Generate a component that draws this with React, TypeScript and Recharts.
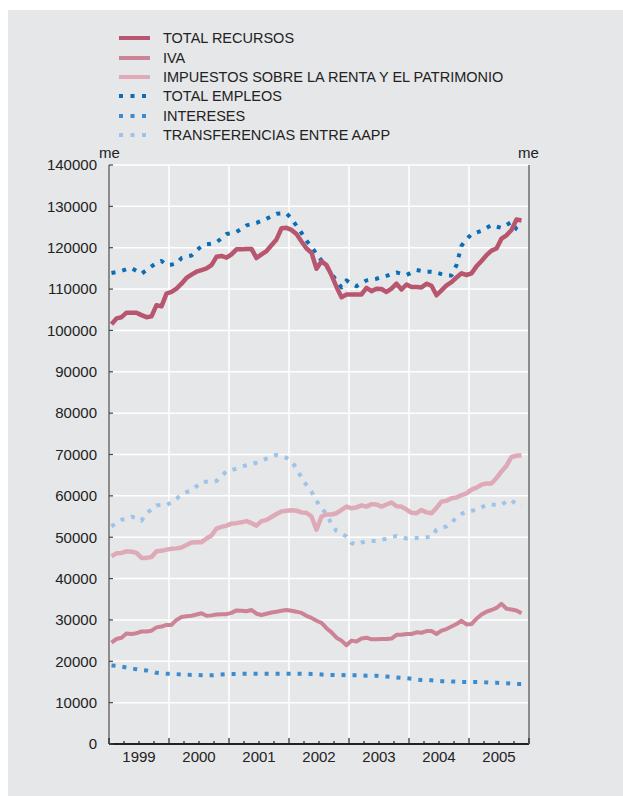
import { LineChart, Line, XAxis, YAxis, CartesianGrid } from 'recharts';

const FONT = '"Liberation Sans", Arial, Helvetica, sans-serif';

// monthly series, Jan 1999 .. Nov 2005 (millones de euros)
const totalRecursos = [
  101500, 102900, 103200, 104300, 104300, 104300, 103700, 103200, 103400, 106100, 105800, 108900,
  109300, 110100, 111300, 112700, 113500, 114200, 114600, 115000, 115800, 117800, 118000, 117600,
  118400, 119600, 119600, 119700, 119700, 117500, 118400, 119200, 120600, 122000, 124700, 124800,
  124300, 123300, 121500, 119800, 118800, 114900, 116700, 115800, 113400, 110500, 108000, 108700,
  108700, 108700, 108700, 110300, 109500, 110100, 110000, 109300, 110100, 111300, 109900, 111100,
  110500, 110500, 110400, 111300, 110800, 108500, 109700, 110900, 111700, 112800, 113800, 113400,
  113800, 115500, 116800, 118200, 119300, 119800, 122200, 123000, 124300, 126800, 126600,
];
const iva = [
  24500, 25400, 25700, 26700, 26600, 26800, 27200, 27200, 27400, 28200, 28400, 28800,
  28800, 30000, 30700, 30900, 31000, 31300, 31600, 31000, 31100, 31300, 31400, 31400,
  31700, 32300, 32200, 32100, 32400, 31500, 31200, 31500, 31800, 32000, 32200, 32400,
  32200, 32000, 31700, 31000, 30500, 29800, 29300, 28000, 27000, 25700, 25000, 23900,
  25000, 24800, 25500, 25700, 25300, 25300, 25400, 25400, 25500, 26400, 26400, 26600,
  26600, 27000, 26900, 27300, 27300, 26600, 27400, 27800, 28400, 29000, 29800, 28900,
  29000, 30300, 31300, 32000, 32400, 32900, 33900, 32700, 32500, 32300, 31600,
];
const impuestosRenta = [
  45400, 46100, 46200, 46600, 46500, 46200, 45000, 45000, 45200, 46600, 46700, 47000,
  47200, 47300, 47500, 48100, 48700, 48800, 48800, 49700, 50400, 52100, 52500, 52800,
  53300, 53400, 53600, 53900, 53400, 52800, 53900, 54200, 54900, 55600, 56200, 56400,
  56500, 56400, 56000, 55900, 55000, 51800, 55000, 55500, 55500, 55800, 56600, 57400,
  57000, 57200, 57700, 57400, 58000, 57900, 57400, 57900, 58400, 57500, 57400, 56700,
  55900, 55800, 56600, 56000, 55800, 57100, 58600, 58800, 59400, 59600, 60200, 60600,
  61500, 62000, 62700, 63000, 63000, 64300, 65900, 67300, 69400, 69700, 69800,
];
const totalEmpleos = [
  113900, 114100, 114400, 114800, 115100, 114400, 113700, 114600, 115500, 116300, 116800, 115800,
  115900, 116200, 117500, 117900, 118100, 119300, 120400, 120800, 121000, 121300, 122300, 123300,
  123500, 123800, 124600, 125400, 125700, 126000, 126500, 127000, 127600, 128200, 128300, 128300,
  127000, 125300, 123600, 121700, 120200, 118500, 116900, 115500, 113700, 112000, 110400, 112100,
  111300, 110700, 111400, 112100, 112300, 112500, 112900, 113200, 113600, 114000, 113700, 113400,
  114000, 114600, 114400, 114200, 114200, 114000, 113600, 113300, 113300, 115800, 120500, 122000,
  123300, 123700, 124100, 124800, 125500, 125100, 124800, 125500, 126200, 124500, 123700,
];
const intereses = [
  19000, 18900, 18700, 18500, 18200, 18100, 17900, 17800, 17600, 17200, 17100, 17000,
  17000, 16900, 16800, 16800, 16700, 16700, 16600, 16600, 16600, 16700, 16800, 16900,
  16900, 16900, 17000, 17000, 17000, 17000, 17000, 17000, 17000, 17000, 17000, 17000,
  17000, 17000, 17000, 17000, 16900, 16900, 16800, 16700, 16700, 16700, 16700, 16600,
  16600, 16600, 16600, 16500, 16500, 16500, 16400, 16300, 16200, 16100, 16000, 15900,
  15800, 15600, 15500, 15500, 15400, 15300, 15200, 15200, 15100, 15100, 15000, 15000,
  15000, 15000, 15000, 14900, 14800, 14800, 14700, 14700, 14600, 14500, 14500,
];
const transferencias = [
  52600, 53500, 54200, 54600, 55000, 54600, 54000, 55800, 56700, 57700, 57800, 57700,
  58500, 59300, 60300, 60900, 61300, 62300, 63400, 63400, 63400, 63600, 64800, 66000,
  66200, 66600, 67000, 67400, 67700, 68000, 68500, 69000, 69400, 69900, 69700, 69200,
  68400, 66600, 64400, 62600, 61000, 58800, 57000, 55600, 53200, 51500, 50800, 50200,
  48600, 48200, 48700, 49000, 49100, 49100, 49400, 49600, 50000, 50300, 50000, 49700,
  49700, 49800, 49900, 50000, 50100, 51800, 52400, 52600, 53500, 54800, 55600, 56200,
  56400, 56600, 57200, 57900, 57900, 57800, 57800, 58700, 59000, 57800, 57600,
];

const years = ['1999', '2000', '2001', '2002', '2003', '2004', '2005'];
const yearBounds = [12, 24, 36, 48, 60, 72];
const monthTicks = [0, 3, 6, 9, 12, 15, 18, 21, 24, 27, 30, 33, 36, 39, 42, 45, 48, 51, 54, 57, 60, 63, 66, 69, 72, 75, 78, 81, 84];
const yTicks = [0, 10000, 20000, 30000, 40000, 50000, 60000, 70000, 80000, 90000, 100000, 110000, 120000, 130000, 140000];

const series = [
  { key: 'tr', name: 'TOTAL RECURSOS', color: '#b9566f', width: 4.5, dotted: false },
  { key: 'iva', name: 'IVA', color: '#cd8396', width: 4, dotted: false },
  { key: 'ir', name: 'IMPUESTOS SOBRE LA RENTA Y EL PATRIMONIO', color: '#dfaab8', width: 4.5, dotted: false },
  { key: 'te', name: 'TOTAL EMPLEOS', color: '#0b6db7', width: 4, dotted: true },
  { key: 'in', name: 'INTERESES', color: '#3b8bd0', width: 4, dotted: true },
  { key: 'ta', name: 'TRANSFERENCIAS ENTRE AAPP', color: '#9dc3e9', width: 4, dotted: true },
];

// x is months since Jan 1999, points sit mid-month
const data = totalRecursos.map((v, i) => ({
  m: i + 0.5,
  tr: v,
  iva: iva[i],
  ir: impuestosRenta[i],
  te: totalEmpleos[i],
  in: intereses[i],
  ta: transferencias[i],
}));

const DASH = '4 7';

function MonthTick(props: any) {
  const { x, y, payload } = props;
  const v = payload.value;
  const isYear = v % 12 === 0;
  return (
    <g>
      <line x1={x} x2={x} y1={y} y2={y - (isYear ? 6 : 3)} stroke="#222" strokeWidth={1.2} />
      {v % 12 === 6 && (
        <text x={x} y={y + 18} textAnchor="middle" fontSize={15} fill="#222" fontFamily={FONT}>
          {years[(v - 6) / 12]}
        </text>
      )}
    </g>
  );
}

function LegendBlock() {
  return (
    <div style={{ position: 'absolute', left: 119, top: 28.6, fontFamily: FONT, fontSize: 14.5, color: '#222' }}>
      {series.map((s) => (
        <div key={s.key} style={{ display: 'flex', alignItems: 'center', height: 19.4 }}>
          <svg width={31} height={8} style={{ display: 'block' }}>
            <line
              x1={0}
              x2={31}
              y1={4}
              y2={4}
              stroke={s.color}
              strokeWidth={4}
              strokeDasharray={s.dotted ? '4 7.5' : undefined}
            />
          </svg>
          <span style={{ marginLeft: 13, whiteSpace: 'nowrap' }}>{s.name}</span>
        </div>
      ))}
    </div>
  );
}

const unitStyle = {
  position: 'absolute' as const,
  top: 145,
  fontFamily: FONT,
  fontSize: 15,
  lineHeight: '15px',
  color: '#222',
};

export default function App() {
  const yTick = { fontSize: 15, fill: '#222', fontFamily: FONT };
  const order = ['in', 'ta', 'te', 'ir', 'iva', 'tr'];
  return (
    <div style={{ position: 'absolute', left: 0, top: 0, width: 623, height: 796, background: '#fff', overflow: 'hidden' }}>
      <div style={{ position: 'absolute', left: 8, top: 10, width: 615, height: 786, background: '#e6e7e9' }} />
      <LegendBlock />
      <span style={{ ...unitStyle, left: 99 }}>me</span>
      <span style={{ ...unitStyle, left: 518 }}>me</span>
      <div style={{ position: 'absolute', left: 0, top: 0 }}>
        <LineChart width={623} height={796} data={data} margin={{ top: 165, right: 34, bottom: 22, left: 49 }}>
          <CartesianGrid
            stroke="#ffffff"
            strokeWidth={1.5}
            verticalCoordinatesGenerator={({ xAxis, offset }: any) => {
              const s = xAxis && xAxis.scale;
              if (typeof s === 'function') return yearBounds.map((b) => s(b));
              return yearBounds.map((b) => offset.left + (b / 84) * offset.width);
            }}
          />
          <XAxis
            type="number"
            dataKey="m"
            domain={[0, 84]}
            ticks={monthTicks}
            interval={0}
            tickSize={0}
            tickMargin={0}
            tickLine={false}
            tick={<MonthTick />}
            axisLine={{ stroke: '#222', strokeWidth: 2 }}
            height={30}
          />
          <YAxis
            domain={[0, 140000]}
            ticks={yTicks}
            interval={0}
            tickSize={-4}
            tickMargin={16}
            tick={yTick}
            tickLine={{ stroke: '#444', strokeWidth: 1.2 }}
            axisLine={{ stroke: '#8c8c8c', strokeWidth: 2 }}
            width={60}
          />
          <YAxis
            yAxisId="r"
            orientation="right"
            domain={[0, 140000]}
            ticks={yTicks}
            interval={0}
            tickSize={-4}
            tickMargin={12}
            tick={yTick}
            tickLine={{ stroke: '#444', strokeWidth: 1.2 }}
            axisLine={{ stroke: '#8c8c8c', strokeWidth: 2 }}
            width={60}
          />
          {order.map((k) => {
            const s = series.find((x) => x.key === k)!;
            return (
              <Line
                key={s.key}
                type="linear"
                dataKey={s.key}
                name={s.name}
                stroke={s.color}
                strokeWidth={s.width}
                strokeDasharray={s.dotted ? DASH : undefined}
                strokeLinejoin="round"
                dot={false}
                activeDot={false}
                isAnimationActive={false}
              />
            );
          })}
        </LineChart>
      </div>
    </div>
  );
}
